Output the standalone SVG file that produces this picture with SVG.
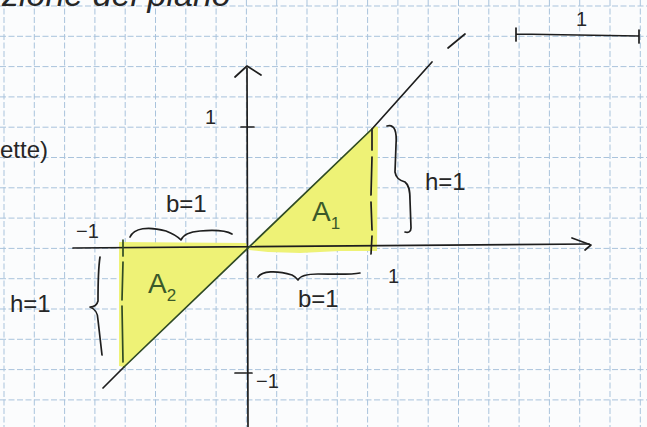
<svg xmlns="http://www.w3.org/2000/svg" width="647" height="427" viewBox="0 0 647 427">
<defs>
<style>
.grid line{stroke:#a9c3dc;stroke-width:1;stroke-dasharray:6 2.5}
.ink{fill:none;stroke:#1e1e1e;stroke-width:1.7;stroke-linecap:round;stroke-linejoin:round}
.green{fill:none;stroke:#2f4a25;stroke-width:1.7;stroke-linecap:round}
.hl{fill:#eef276;stroke:none}
.t{font-family:"Liberation Sans",Arial,sans-serif;fill:#262626}
.tg{font-family:"Liberation Sans",Arial,sans-serif;fill:#3b5a2a}
</style>
</defs>
<rect width="647" height="427" fill="#fbfcfd"/>
<g class="grid">
<line x1="4" y1="0" x2="4" y2="427"/><line x1="34.3" y1="0" x2="34.3" y2="427"/><line x1="64.6" y1="0" x2="64.6" y2="427"/><line x1="94.9" y1="0" x2="94.9" y2="427"/><line x1="125.2" y1="0" x2="125.2" y2="427"/><line x1="155.5" y1="0" x2="155.5" y2="427"/><line x1="185.8" y1="0" x2="185.8" y2="427"/><line x1="216.1" y1="0" x2="216.1" y2="427"/><line x1="246.4" y1="0" x2="246.4" y2="427"/><line x1="276.7" y1="0" x2="276.7" y2="427"/><line x1="307" y1="0" x2="307" y2="427"/><line x1="337.3" y1="0" x2="337.3" y2="427"/><line x1="367.6" y1="0" x2="367.6" y2="427"/><line x1="397.9" y1="0" x2="397.9" y2="427"/><line x1="428.2" y1="0" x2="428.2" y2="427"/><line x1="458.5" y1="0" x2="458.5" y2="427"/><line x1="488.8" y1="0" x2="488.8" y2="427"/><line x1="519.1" y1="0" x2="519.1" y2="427"/><line x1="549.4" y1="0" x2="549.4" y2="427"/><line x1="579.7" y1="0" x2="579.7" y2="427"/><line x1="610" y1="0" x2="610" y2="427"/><line x1="640.3" y1="0" x2="640.3" y2="427"/>
<line x1="0" y1="6" x2="647" y2="6"/><line x1="0" y1="36.3" x2="647" y2="36.3"/><line x1="0" y1="66.6" x2="647" y2="66.6"/><line x1="0" y1="96.9" x2="647" y2="96.9"/><line x1="0" y1="127.2" x2="647" y2="127.2"/><line x1="0" y1="157.5" x2="647" y2="157.5"/><line x1="0" y1="187.8" x2="647" y2="187.8"/><line x1="0" y1="218.1" x2="647" y2="218.1"/><line x1="0" y1="248.4" x2="647" y2="248.4"/><line x1="0" y1="278.7" x2="647" y2="278.7"/><line x1="0" y1="309" x2="647" y2="309"/><line x1="0" y1="339.3" x2="647" y2="339.3"/><line x1="0" y1="369.6" x2="647" y2="369.6"/><line x1="0" y1="399.9" x2="647" y2="399.9"/>
</g>
<g id="areas">
<polygon class="hl" points="249,248 374,126 378,127 377,251 340,251 300,253 268,252 249,250"/>
<polygon class="hl" points="119,242 246,243 248,248 124,367 119,366"/>
</g>
<g id="connectors">
<path class="ink" d="M73 248 L589 244"/>
<path class="ink" d="M572 238 L591 245 L585 250"/>
<path class="ink" d="M247 68 L248 427"/>
<path class="ink" d="M235 77 L247 66 L261 75"/>
<path class="ink" d="M241 127 L254 127"/>
<path class="ink" d="M235 373 L252 373"/>
<path class="ink" d="M103 388 L124 367"/>
<path class="green" d="M124 367 L372 129"/>
<path class="ink" d="M372 129 L432 62"/>
<path class="ink" d="M448 48 L465 34"/>
<path class="green" d="M123 240 L123 256 M123 262 L122 300 M122 306 L123 362"/>
<path class="ink" d="M372 130 L372 150 M372 157 L371 195 M371 202 L372 230 M372 236 L371 254"/>
<path class="ink" d="M516 34 L639 36 M516 28 L516 41 M639 30 L639 43"/>
</g>
<g id="braces">
<path class="ink" d="M130 237 C134 228 148 226 166 231 C174 234 178 237 181 240 C183 235 188 232 200 231 C212 230 225 230 232 234"/>
<path class="ink" d="M258 277 C262 271 276 270 292 275 C296 277 297 279 298 280 C300 276 306 274 318 274 C332 274 350 275 360 273"/>
<path class="ink" d="M387 126 C395 124 397 132 396 145 L395 172 C396 178 399 180 405 182 C409 185 410 190 410 200 L411 228 C411 232 408 233 405 232"/>
<path class="ink" d="M100 257 C98 270 98 290 98 301 C97 305 94 307 90 307 C95 309 98 312 98 320 L102 355"/>
</g>
<g id="labels">
<text class="t" x="2" y="6" font-size="34" font-style="italic">zione del piano</text>
<text class="t" x="0" y="158" font-size="24">ette)</text>
<text class="t" x="205" y="124" font-size="20">1</text>
<text class="t" x="576" y="26" font-size="20">1</text>
<text class="t" x="76" y="238" font-size="20">−1</text>
<text class="t" x="256" y="388" font-size="20">−1</text>
<text class="t" x="388" y="283" font-size="20">1</text>
<text class="t" x="166" y="212" font-size="24">b=1</text>
<text class="t" x="298" y="307" font-size="24">b=1</text>
<text class="t" x="425" y="190" font-size="24">h=1</text>
<text class="t" x="10" y="312" font-size="24">h=1</text>
<text class="tg" x="312" y="221" font-size="28">A<tspan font-size="17" dy="8">1</tspan></text>
<text class="tg" x="148" y="293" font-size="28">A<tspan font-size="17" dy="8">2</tspan></text>
</g>
</svg>
